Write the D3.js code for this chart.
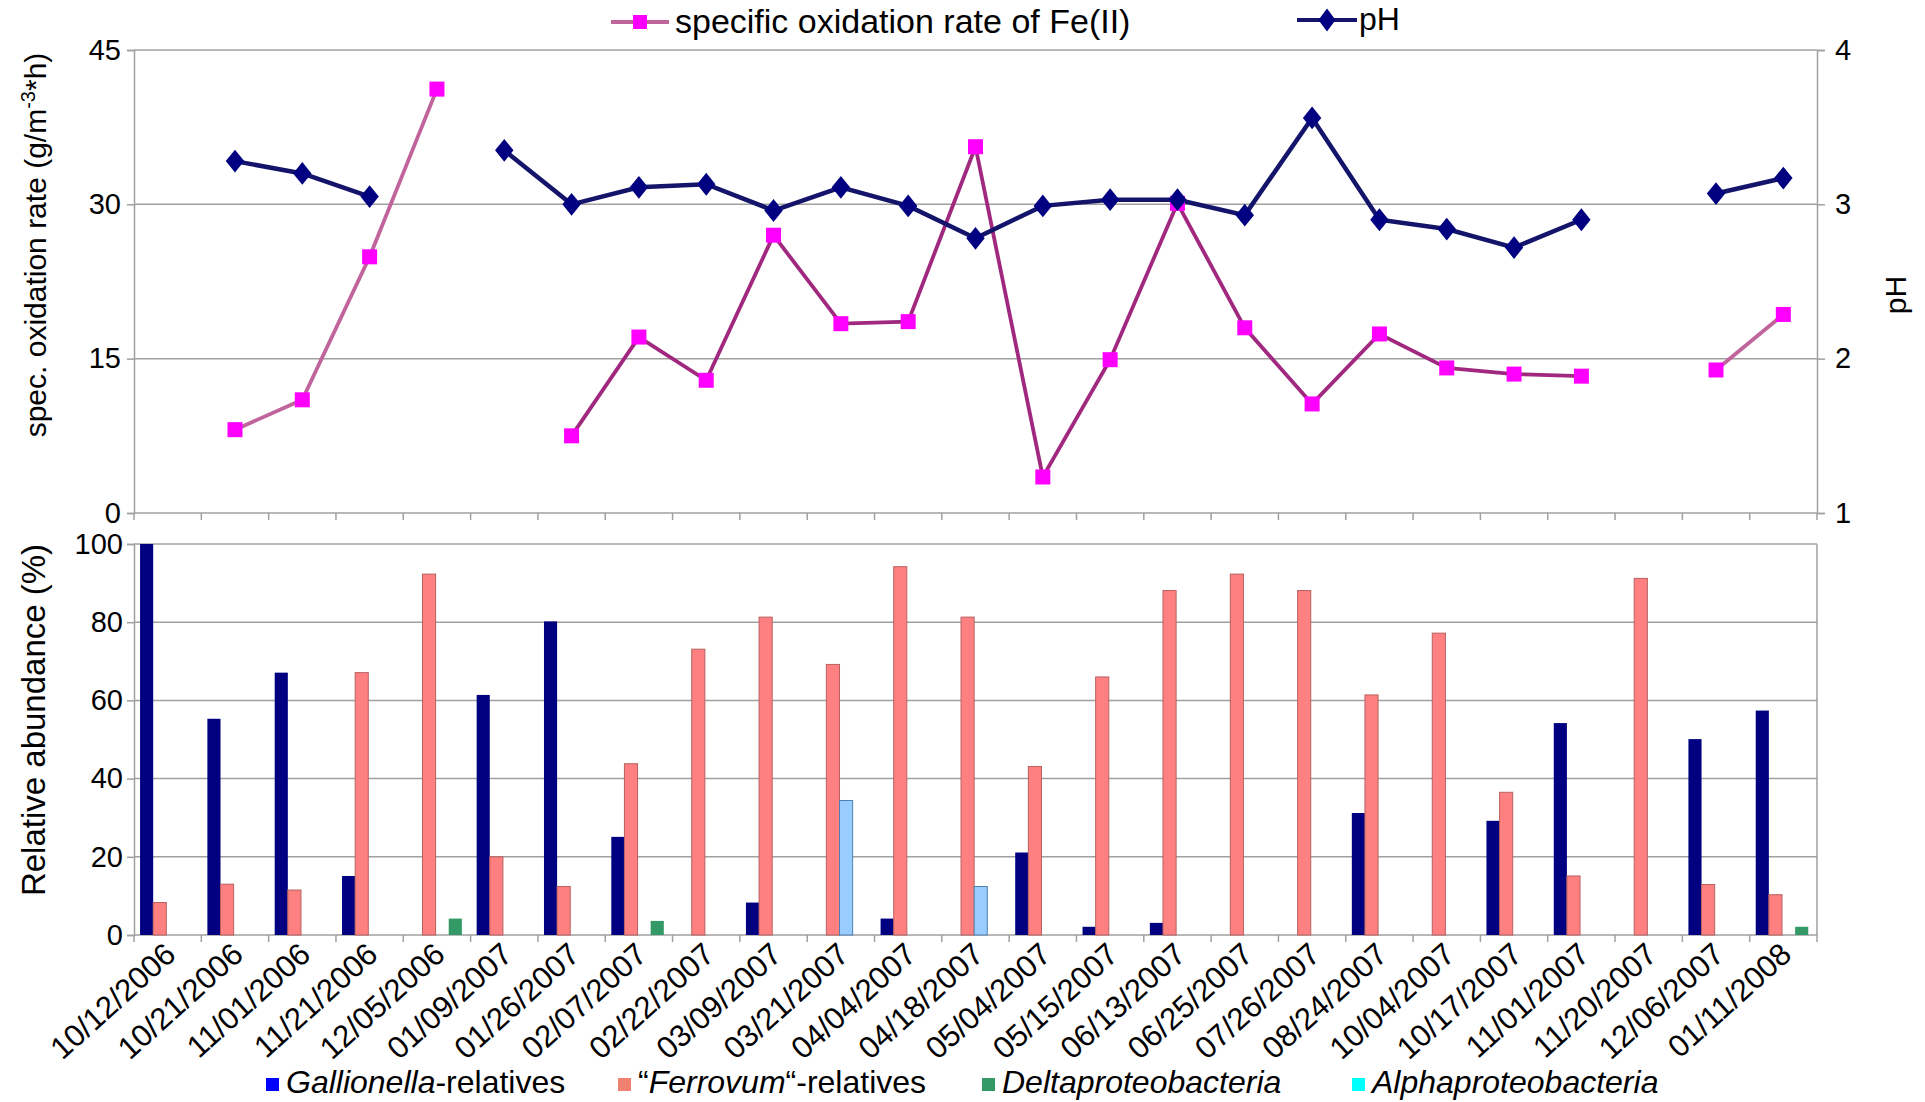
<!DOCTYPE html>
<html><head><meta charset="utf-8">
<script src="https://cdn.jsdelivr.net/npm/d3@7"></script>
<style>body{margin:0;background:#fff}svg{display:block}text{font-family:"Liberation Sans",Arial,sans-serif;fill:#000}</style>
</head><body><svg id="c" width="1925" height="1102"></svg>
<script>
const categories = ["10/12/2006","10/21/2006","11/01/2006","11/21/2006","12/05/2006","01/09/2007","01/26/2007","02/07/2007","02/22/2007","03/09/2007","03/21/2007","04/04/2007","04/18/2007","05/04/2007","05/15/2007","06/13/2007","06/25/2007","07/26/2007","08/24/2007","10/04/2007","10/17/2007","11/01/2007","11/20/2007","12/06/2007","01/11/2008"];
const oxRate = [null,8.1,11.0,24.9,41.2,null,7.5,17.1,12.9,27.0,18.4,18.6,35.6,3.5,14.9,30.1,18.0,10.6,17.4,14.1,13.5,13.3,null,13.9,19.3];
const pH = [null,3.28,3.20,3.05,null,3.35,3.00,3.11,3.13,2.96,3.11,2.99,2.78,2.99,3.03,3.03,2.93,3.56,2.90,2.84,2.72,2.90,null,3.07,3.17];
const gallionella = [100,55.3,67.1,15.1,0,61.4,80.2,25.1,0,8.3,0,4.2,0,21.1,2.1,3.1,0,0,31.2,0,29.2,54.2,0,50.1,57.4];
const ferrovum = [8.3,13.0,11.5,67.1,92.3,20.0,12.4,43.8,73.1,81.3,69.2,94.2,81.3,43.1,66.0,88.1,92.3,88.1,61.4,77.2,36.5,15.1,91.2,12.9,10.3];
const alpha = [0,0,0,0,0,0,0,0,0,0,34.4,0,12.4,0,0,0,0,0,0,0,0,0,0,0,0];
const delta = [0,0,0,0,4.2,0,0,3.6,0,0,0,0,0,0,0,0,0,0,0,0,0,0,0,0,2.1];
const leftTicksTop = [0,15,30,45];
const rightTicksTop = [1,2,3,4];
const ticksBottom = [0,20,40,60,80,100];

const svg = d3.select("#c");
const L = 134, R = 1817;
const topY0 = 513, topY1 = 50, botY0 = 935, botY1 = 544;
const grid = "#a0a0a0";

const x = d3.scaleBand().domain(categories).range([L, R]).padding(0);
const bw = x.bandwidth();
const yOx = d3.scaleLinear().domain([0,45]).range([topY0, topY1]);
const yPH = d3.scaleLinear().domain([1,4]).range([topY0, topY1]);
const yAb = d3.scaleLinear().domain([0,100]).range([botY0, botY1]);

// ---- top panel gridlines
svg.append("g").selectAll("line").data(leftTicksTop.filter(d=>d>0)).join("line")
  .attr("x1",L).attr("x2",R).attr("y1",d=>yOx(d)).attr("y2",d=>yOx(d))
  .attr("stroke",grid).attr("stroke-width",1.5);

const styleAxis = (g) => {
  g.select(".domain").attr("stroke",grid).attr("stroke-width",1.5);
  g.selectAll(".tick line").attr("stroke",grid).attr("stroke-width",1.5);
  g.selectAll("text").style("font-size","29px").attr("font-family",null).attr("fill","#000");
};

const axL = svg.append("g").attr("transform",`translate(${L},0)`)
  .call(d3.axisLeft(yOx).tickValues(leftTicksTop).tickSize(7).tickPadding(6).tickFormat(d3.format("d")));
styleAxis(axL);

const axR = svg.append("g").attr("transform",`translate(${R},0)`)
  .call(d3.axisRight(yPH).tickValues(rightTicksTop).tickSize(8).tickPadding(10).tickFormat(d3.format("d")));
styleAxis(axR);

// bottom axis top panel (ticks at category boundaries)
const topB = svg.append("g");
topB.append("line").attr("x1",L).attr("x2",R).attr("y1",topY0).attr("y2",topY0).attr("stroke",grid).attr("stroke-width",1.5);
topB.selectAll("line.t").data(categories.concat(["__end"])).join("line").attr("class","t")
  .attr("x1",(d,i)=>L+i*bw).attr("x2",(d,i)=>L+i*bw).attr("y1",topY0).attr("y2",topY0+7)
  .attr("stroke",grid).attr("stroke-width",1.5);

// ---- lines
const cx = c => x(c) + bw/2;
const oxData = categories.map((c,i)=>({c, v: oxRate[i]}));
const phData = categories.map((c,i)=>({c, v: pH[i]}));

const runs = [];
let cur = [];
oxData.forEach(d => { if (d.v == null) { if (cur.length) runs.push(cur); cur = []; } else cur.push(d); });
if (cur.length) runs.push(cur);
const oxLine = d3.line().x(d=>cx(d.c)).y(d=>yOx(d.v));
svg.append("g").selectAll("path").data(runs).join("path")
  .attr("d", oxLine).attr("fill","none")
  .attr("stroke",(d,i)=> (i===0 || i===runs.length-1) ? "#c0649c" : "#a1287f")
  .attr("stroke-width",3.8);

const phLine = d3.line().defined(d=>d.v!=null).x(d=>cx(d.c)).y(d=>yPH(d.v));
svg.append("path").datum(phData).attr("d",phLine).attr("fill","none")
  .attr("stroke","#14146a").attr("stroke-width",4.5);

const sq = 15;
svg.append("g").selectAll("rect").data(oxData.filter(d=>d.v!=null)).join("rect")
  .attr("x",d=>cx(d.c)-sq/2).attr("y",d=>yOx(d.v)-sq/2).attr("width",sq).attr("height",sq)
  .attr("fill","#ff00ff");

const diamond = d3.symbol().type(d3.symbolDiamond).size(150);
svg.append("g").selectAll("path").data(phData.filter(d=>d.v!=null)).join("path")
  .attr("d",diamond).attr("transform",d=>`translate(${cx(d.c)},${yPH(d.v)}) scale(1.4,1)`)
  .attr("fill","#000080");

// ---- bottom panel
svg.append("g").selectAll("line").data(ticksBottom).join("line")
  .attr("x1",L).attr("x2",R).attr("y1",d=>yAb(d)).attr("y2",d=>yAb(d))
  .attr("stroke",grid).attr("stroke-width",1.5);
svg.append("line").attr("x1",R).attr("x2",R).attr("y1",botY1).attr("y2",botY0).attr("stroke",grid).attr("stroke-width",1.5);

const axB = svg.append("g").attr("transform",`translate(${L},0)`)
  .call(d3.axisLeft(yAb).tickValues(ticksBottom).tickSize(7).tickPadding(4).tickFormat(d3.format("d")));
styleAxis(axB);

svg.append("g").selectAll("line").data(categories.concat(["__end"])).join("line")
  .attr("x1",(d,i)=>L+i*bw).attr("x2",(d,i)=>L+i*bw).attr("y1",botY0).attr("y2",botY0+7)
  .attr("stroke",grid).attr("stroke-width",1.5);

const series = [
  {name:"gal", vals:gallionella, fill:"#000080", stroke:"none"},
  {name:"fer", vals:ferrovum, fill:"#ff8080", stroke:"#b86060"},
  {name:"alp", vals:alpha, fill:"#99ccff", stroke:"#4d80b3"},
  {name:"del", vals:delta, fill:"#339966", stroke:"none"}
];
const barW = bw*0.195, off = bw*0.09;
series.forEach((s,si)=>{
  svg.append("g").selectAll("rect").data(categories.map((c,i)=>({c,v:s.vals[i]})).filter(d=>d.v>0)).join("rect")
    .attr("x",d=>x(d.c)+off+si*barW).attr("width",barW)
    .attr("y",d=>yAb(d.v)).attr("height",d=>botY0-yAb(d.v))
    .attr("fill",s.fill).attr("stroke",s.stroke).attr("stroke-width",1);
});

// category labels
svg.append("g").selectAll("text").data(categories).join("text")
  .attr("transform",d=>`translate(${cx(d)+10},${botY0+22}) rotate(-42)`)
  .attr("text-anchor","end").style("font-size","31px").text(d=>d);

// axis titles
svg.append("text").attr("transform","translate(46,245) rotate(-90)").attr("text-anchor","middle")
  .style("font-size","30px")
  .call(t=>{ t.append("tspan").text("spec. oxidation rate (g/m");
    t.append("tspan").attr("dy",-11).style("font-size","20px").text("-3");
    t.append("tspan").attr("dy",11).text("*h)"); });
svg.append("text").attr("transform","translate(45,720) rotate(-90)").attr("text-anchor","middle")
  .style("font-size","33px").text("Relative abundance (%)");
svg.append("text").attr("transform","translate(1906,295) rotate(-90)").attr("text-anchor","middle")
  .style("font-size","30px").text("pH");

// top legend
const lg = svg.append("g");
lg.append("line").attr("x1",611).attr("x2",669).attr("y1",22).attr("y2",22).attr("stroke","#c0649c").attr("stroke-width",4);
lg.append("rect").attr("x",633).attr("y",15).attr("width",14).attr("height",14).attr("fill","#ff00ff");
lg.append("text").attr("x",675).attr("y",33).style("font-size","34px").text("specific oxidation rate of Fe(II)");
lg.append("line").attr("x1",1297).attr("x2",1357).attr("y1",20).attr("y2",20).attr("stroke","#14146a").attr("stroke-width",4);
lg.append("path").attr("d",diamond).attr("transform","translate(1327,20) scale(1.3,1)").attr("fill","#000080");
lg.append("text").attr("x",1359).attr("y",30).style("font-size","32px").text("pH");

// bottom legend
const bl = [
  {x:266, color:"#0000ff", parts:[["Gallionella",true],["-relatives",false]]},
  {x:618, color:"#f08070", parts:[["\u201C",false],["Ferrovum",true],["\u201C-relatives",false]]},
  {x:982, color:"#339966", parts:[["Deltaproteobacteria",true]]},
  {x:1352, color:"#00ffff", parts:[["Alphaproteobacteria",true]]}
];
const blg = svg.append("g");
bl.forEach(b=>{
  blg.append("rect").attr("x",b.x).attr("y",1078).attr("width",13).attr("height",13).attr("fill",b.color);
  const t = blg.append("text").attr("x",b.x+20).attr("y",1093).style("font-size","32px");
  b.parts.forEach(p=>t.append("tspan").style("font-style",p[1]?"italic":"normal").text(p[0]));
});
</script></body></html>
